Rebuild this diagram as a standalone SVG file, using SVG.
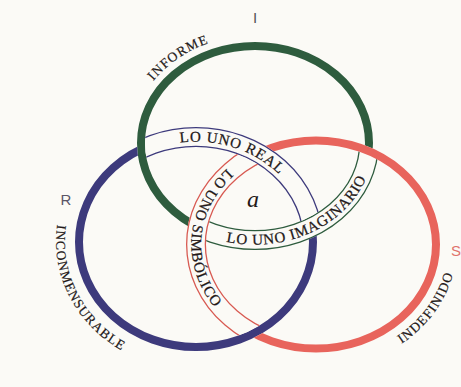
<svg xmlns="http://www.w3.org/2000/svg" xmlns:xlink="http://www.w3.org/1999/xlink" width="461" height="387" viewBox="0 0 461 387">
<style>
.thick{fill:none;stroke-width:8}
.bo{fill:none;stroke-width:20}
.bi{fill:none;stroke:#fbfaf6;stroke-width:17.4}
.g{stroke:#2e5c3e}
.b{stroke:#3d3a7c}
.r{stroke:#e8645c}
.rl{stroke:#d85a52}
.bt{font-family:"Liberation Serif",serif;font-size:15px;fill:#231818;stroke:#231818;stroke-width:0.25px;letter-spacing:0.8px}
.ot{font-family:"Liberation Serif",serif;font-size:13.5px;fill:#231818;stroke:#231818;stroke-width:0.2px;letter-spacing:1.1px}
.lbl{font-family:"Liberation Sans",sans-serif;font-size:15px}
</style>
<defs>
<ellipse id="eG" cx="255" cy="143" rx="114" ry="97"/>
<ellipse id="eB" cx="196" cy="242" rx="117" ry="105"/>
<ellipse id="eR" cx="316" cy="244.5" rx="120" ry="104"/>
<clipPath id="cGR"><circle cx="200" cy="228" r="30"/></clipPath>
<clipPath id="cBG"><circle cx="312" cy="227" r="30"/></clipPath>
<clipPath id="cRB"><circle cx="257" cy="155" r="30"/></clipPath>
<mask id="mGo" maskUnits="userSpaceOnUse" x="0" y="0" width="461" height="387">
<rect width="461" height="387" fill="#fff"/>
<use href="#eR" fill="#000"/>
<use href="#eR" fill="none" stroke="#000" stroke-width="8"/>
<use href="#eR" fill="none" stroke="#000" stroke-width="20" clip-path="url(#cGR)"/>
</mask>
<mask id="mGi" maskUnits="userSpaceOnUse" x="0" y="0" width="461" height="387">
<rect width="461" height="387" fill="#000"/>
<use href="#eR" fill="#fff"/>
<use href="#eR" fill="none" stroke="#000" stroke-width="8"/>
<use href="#eR" fill="none" stroke="#000" stroke-width="20" clip-path="url(#cGR)"/>
</mask>
<mask id="mBo" maskUnits="userSpaceOnUse" x="0" y="0" width="461" height="387">
<rect width="461" height="387" fill="#fff"/>
<use href="#eG" fill="#000"/>
<use href="#eG" fill="none" stroke="#000" stroke-width="8"/>
<use href="#eG" fill="none" stroke="#000" stroke-width="20" clip-path="url(#cBG)"/>
</mask>
<mask id="mBi" maskUnits="userSpaceOnUse" x="0" y="0" width="461" height="387">
<rect width="461" height="387" fill="#000"/>
<use href="#eG" fill="#fff"/>
<use href="#eG" fill="none" stroke="#000" stroke-width="8"/>
<use href="#eG" fill="none" stroke="#000" stroke-width="20" clip-path="url(#cBG)"/>
</mask>
<mask id="mRo" maskUnits="userSpaceOnUse" x="0" y="0" width="461" height="387">
<rect width="461" height="387" fill="#fff"/>
<use href="#eB" fill="#000"/>
<use href="#eB" fill="none" stroke="#000" stroke-width="8"/>
<use href="#eB" fill="none" stroke="#000" stroke-width="20" clip-path="url(#cRB)"/>
</mask>
<mask id="mRi" maskUnits="userSpaceOnUse" x="0" y="0" width="461" height="387">
<rect width="461" height="387" fill="#000"/>
<use href="#eB" fill="#fff"/>
<use href="#eB" fill="none" stroke="#000" stroke-width="8"/>
<use href="#eB" fill="none" stroke="#000" stroke-width="20" clip-path="url(#cRB)"/>
</mask>
<path id="tpB" d="M125.3,164.0 A112.4,100.4 0 0,1 307.0,226.3"/>
<path id="tpG" d="M157.85,201.28 A118.6,101.6 0 0,0 362.49,100.06"/>
<path id="tpR" d="M302.98,136.5 A124.6,108.6 0 0,0 285.86,349.87"/>
<path id="tpI" d="M133.7,167.19 A124.5,107.5 0 0,1 299.62,42.64"/>
<path id="tpRo" d="M107.9,142.53 A140,128 0 0,0 217.9,368.4"/>
<path id="tpS" d="M313.54,369.48 A141,125 0 0,0 439.3,183.9"/>
</defs>
<rect width="461" height="387" fill="#fbfaf6"/>

<g id="ring-I">
<use href="#eG" class="thick g" mask="url(#mGo)"/>
<g mask="url(#mGi)">
<use href="#eG" class="bo g"/>
<use href="#eG" class="bi"/>
</g>
<text class="bt"><textPath href="#tpG" startOffset="50%" text-anchor="middle">LO UNO IMAGINARIO</textPath></text>
<text class="ot"><textPath href="#tpI" startOffset="50%" text-anchor="middle">INFORME</textPath></text>
<text class="lbl" x="255" y="23" text-anchor="middle" fill="#555">I</text>
</g>

<g id="ring-R">
<use href="#eB" class="thick b" mask="url(#mBo)"/>
<g mask="url(#mBi)">
<use href="#eB" class="bo b"/>
<use href="#eB" class="bi"/>
</g>
<text class="bt"><textPath href="#tpB" startOffset="50%" text-anchor="middle">LO UNO REAL</textPath></text>
<text class="ot"><textPath href="#tpRo" startOffset="50%" text-anchor="middle">INCONMENSURABLE</textPath></text>
<text class="lbl" x="66" y="205" text-anchor="middle" fill="#5a5566">R</text>
</g>

<g id="ring-S">
<use href="#eR" class="thick r" mask="url(#mRo)"/>
<g mask="url(#mRi)">
<use href="#eR" class="bo rl"/>
<use href="#eR" class="bi"/>
</g>
<text class="bt"><textPath href="#tpR" startOffset="50%" text-anchor="middle">LO UNO SIMBÓLICO</textPath></text>
<text class="ot"><textPath href="#tpS" startOffset="50%" text-anchor="middle">INDEFINIDO</textPath></text>
<text class="lbl" x="456" y="256" text-anchor="middle" fill="#e0736b">S</text>
</g>

<g id="object-a">
<text x="253" y="207" text-anchor="middle" font-family="Liberation Serif, serif" font-style="italic" font-size="24" fill="#231818">a</text>
</g>
</svg>
